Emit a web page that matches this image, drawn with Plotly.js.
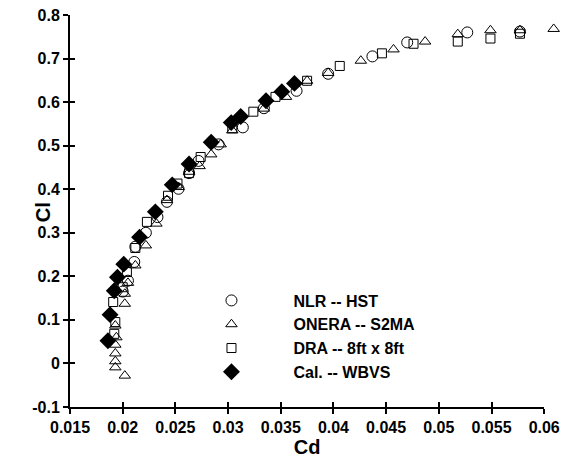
<!DOCTYPE html>
<html><head><meta charset="utf-8">
<script src="https://cdn.plot.ly/plotly-3.0.1.min.js"></script>
<style>html,body{margin:0;padding:0;background:#fff}#c{width:573px;height:460px}</style>
</head><body><div id="c"></div>
<script>
const seriesNames = ["NLR -- HST", "ONERA -- S2MA", "DRA -- 8ft x 8ft", "Cal. -- WBVS"];
const cdNLR = [0.0200, 0.0205, 0.0211, 0.0212, 0.0222, 0.0233, 0.0242, 0.0253, 0.0263, 0.0272, 0.0291, 0.0314, 0.0334, 0.0365, 0.0395, 0.0437, 0.0470, 0.0527, 0.0577];
const clNLR = [0.165, 0.190, 0.233, 0.268, 0.300, 0.336, 0.371, 0.401, 0.437, 0.465, 0.503, 0.542, 0.586, 0.626, 0.665, 0.705, 0.737, 0.760, 0.762];
const cdONERA = [0.0202, 0.0193, 0.0193, 0.0193, 0.0193, 0.0194, 0.0193, 0.0202, 0.0202, 0.0205, 0.0212, 0.0222, 0.0232, 0.0242, 0.0253, 0.0263, 0.0273, 0.0284, 0.0293, 0.0304, 0.0334, 0.0355, 0.0375, 0.0395, 0.0426, 0.0457, 0.0487, 0.0518, 0.0549, 0.0577, 0.0609];
const clONERA = [-0.028, -0.009, 0.005, 0.023, 0.043, 0.060, 0.087, 0.137, 0.160, 0.185, 0.225, 0.271, 0.321, 0.375, 0.405, 0.440, 0.453, 0.480, 0.503, 0.535, 0.585, 0.612, 0.649, 0.667, 0.695, 0.721, 0.739, 0.756, 0.765, 0.765, 0.768];
const cdDRA = [0.0192, 0.0193, 0.0191, 0.0200, 0.0204, 0.0212, 0.0223, 0.0243, 0.0252, 0.0263, 0.0274, 0.0304, 0.0324, 0.0345, 0.0375, 0.0406, 0.0446, 0.0476, 0.0518, 0.0549, 0.0577];
const clDRA = [0.068, 0.095, 0.141, 0.175, 0.210, 0.265, 0.325, 0.385, 0.413, 0.437, 0.474, 0.540, 0.578, 0.612, 0.649, 0.683, 0.712, 0.734, 0.739, 0.746, 0.757];
const cdCal = [0.0186, 0.0188, 0.0192, 0.0195, 0.0201, 0.0216, 0.0231, 0.0247, 0.0263, 0.0284, 0.0303, 0.0312, 0.0336, 0.0351, 0.0363];
const clCal = [0.052, 0.112, 0.167, 0.198, 0.228, 0.290, 0.348, 0.410, 0.458, 0.508, 0.553, 0.567, 0.603, 0.624, 0.643];
const xTicks = [0.015, 0.02, 0.025, 0.03, 0.035, 0.04, 0.045, 0.05, 0.055, 0.06];
const xTickText = ["0.015", "0.02", "0.025", "0.03", "0.035", "0.04", "0.045", "0.05", "0.055", "0.06"];
const yTicks = [-0.1, 0, 0.1, 0.2, 0.3, 0.4, 0.5, 0.6, 0.7, 0.8];
const yTickText = ["-0.1", "0", "0.1", "0.2", "0.3", "0.4", "0.5", "0.6", "0.7", "0.8"];

const FONT = "Liberation Sans, Arial, Helvetica, sans-serif";
const xMin = 0.015, xAxisMax = 0.06, xDataMax = 0.0615;
const dom = (xAxisMax - xMin) / (xDataMax - xMin);
const ln = {color: "#000", width: 1};
const traces = [
  {x: [], y: [], xaxis: "x2", yaxis: "y", showlegend: false, mode: "markers"},
  {x: [], y: [], xaxis: "x3", yaxis: "y", showlegend: false, mode: "markers"},
  {x: [], y: [], xaxis: "x", yaxis: "y2", showlegend: false, mode: "markers"},
  {x: cdNLR, y: clNLR, name: seriesNames[0], mode: "markers", cliponaxis: false,
   marker: {symbol: "circle-open", size: 11, color: "#000", line: ln}},
  {x: cdONERA, y: clONERA, name: seriesNames[1], mode: "markers", cliponaxis: false,
   marker: {symbol: "triangle-up-open", size: 10, color: "#000", line: ln}},
  {x: cdDRA, y: clDRA, name: seriesNames[2], mode: "markers", cliponaxis: false,
   marker: {symbol: "square-open", size: 9, color: "#000", line: ln}},
  {x: cdCal, y: clCal, name: seriesNames[3], mode: "markers", cliponaxis: false,
   marker: {symbol: "diamond", size: 13, color: "#000", line: {color: "#000", width: 0}}}
];
const axBase = {
  showgrid: false, zeroline: false, linecolor: "#000", linewidth: 2,
  tickcolor: "#000", tickwidth: 2, ticklen: 5, tickmode: "array",
  tickfont: {family: FONT, size: 16, color: "#000", weight: "bold"}
};
const layout = {
  width: 573, height: 460,
  margin: {l: 70, r: 13, t: 15, b: 53},
  paper_bgcolor: "#fff", plot_bgcolor: "rgba(0,0,0,0)",
  font: {family: FONT, color: "#000"},
  showlegend: true,
  xaxis: {range: [xMin, xDataMax], domain: [0, 1], showline: false, showgrid: false, zeroline: false,
    ticks: "", showticklabels: false},
  xaxis2: Object.assign({}, axBase, {range: [xMin, xAxisMax], domain: [0, dom], anchor: "y",
    tickvals: xTicks, ticktext: xTickText, showline: true, ticks: "outside",
    title: {text: "Cd", font: {family: FONT, size: 20, weight: "bold", color: "#000"}, standoff: 5}}),
  xaxis3: Object.assign({}, axBase, {range: [xMin, xAxisMax], domain: [0, dom], anchor: "y",
    tickvals: xTicks, showline: false, ticks: "inside", showticklabels: false}),
  yaxis: Object.assign({}, axBase, {range: [-0.1, 0.8], tickvals: yTicks, ticktext: yTickText,
    showline: true, ticks: "outside", anchor: "x"}),
  yaxis2: Object.assign({}, axBase, {range: [-0.1, 0.8], tickvals: yTicks, overlaying: "y", anchor: "x",
    side: "left", showline: false, ticks: "inside", showticklabels: false}),
  annotations: [{text: "Cl", xref: "paper", yref: "paper", x: -0.055, y: 0.497,
    xanchor: "center", yanchor: "middle", textangle: -90, showarrow: false,
    font: {family: FONT, size: 20, weight: "bold", color: "#000"}}],
  legend: {x: 0.203, y: 0.315, xanchor: "left", yanchor: "top", bgcolor: "rgba(0,0,0,0)",
    itemwidth: 114, font: {family: FONT, size: 16, weight: "bold", color: "#000"}}
};
Plotly.newPlot("c", traces, layout, {displayModeBar: false, staticPlot: true});
</script></body></html>
